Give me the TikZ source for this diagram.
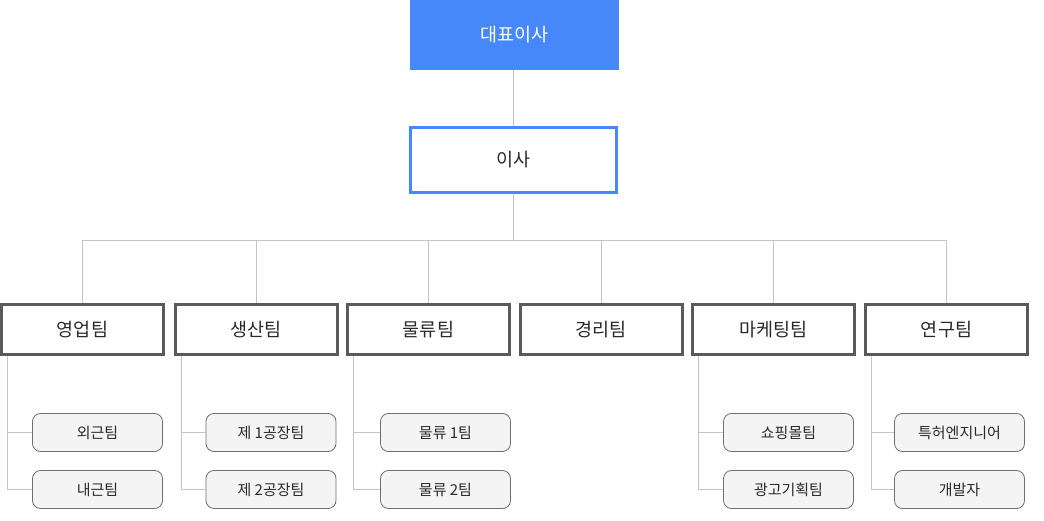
\documentclass[tikz,border=0pt]{standalone}
\usepackage{fontspec}
\setmainfont{Noto Sans CJK KR}
\definecolor{topblue}{HTML}{4688FA}
\definecolor{teamgray}{HTML}{5A5A5A}
\definecolor{subgray}{HTML}{6E6E6E}
\definecolor{subfill}{HTML}{F4F4F4}
\definecolor{linegray}{HTML}{C4C4C4}
\definecolor{txt}{HTML}{2A2A2A}
\begin{document}
\begin{tikzpicture}[x=1pt,y=-1pt,
  topbox/.style={fill=topblue,draw=none,minimum width=209pt,minimum height=70pt,inner sep=0pt,text=white,font=\fontsize{18.5}{22}\selectfont},
  isabox/.style={draw=topblue,line width=3pt,fill=white,minimum width=206pt,minimum height=65pt,inner sep=0pt,text=txt,font=\fontsize{18.5}{22}\selectfont},
  teambox/.style={draw=teamgray,line width=3pt,fill=white,minimum width=162pt,minimum height=50pt,inner sep=0pt,text=txt,font=\fontsize{18.5}{22}\selectfont},
  subbox/.style={draw=subgray,line width=0.8pt,fill=subfill,rounded corners=8pt,minimum width=130pt,minimum height=38pt,inner sep=0pt,text=txt,font=\fontsize{15}{18}\selectfont},
  conn/.style={draw=linegray,line width=1pt}]
\useasboundingbox (0,0) rectangle (1044,521);
% top
\node[topbox] (ceo) at (514.5,35) {대표이사};
\node[isabox] (isa) at (513.5,160) {이사};
% teams
\node[teambox] (t1) at (82.5,329.5) {영업팀};
\node[teambox] (t2) at (256,329.5) {생산팀};
\node[teambox] (t3) at (428.5,329.5) {물류팀};
\node[teambox] (t4) at (601,329.5) {경리팀};
\node[teambox] (t5) at (773.5,329.5) {마케팅팀};
\node[teambox] (t6) at (946.5,329.5) {연구팀};
% sub teams
\node[subbox] (s1a) at (97.5,432.5) {외근팀};
\node[subbox] (s1b) at (97.5,489.5) {내근팀};
\node[subbox] (s2a) at (271,432.5) {제 1공장팀};
\node[subbox] (s2b) at (271,489.5) {제 2공장팀};
\node[subbox] (s3a) at (445.5,432.5) {물류 1팀};
\node[subbox] (s3b) at (445.5,489.5) {물류 2팀};
\node[subbox] (s5a) at (788.5,432.5) {쇼핑몰팀};
\node[subbox] (s5b) at (788.5,489.5) {광고기획팀};
\node[subbox] (s6a) at (959.5,432.5) {특허엔지니어};
\node[subbox] (s6b) at (959.5,489.5) {개발자};
% connectors
\draw[conn] (ceo.south -| isa.north) -- (isa.north);
\foreach \t in {t1,t2,t3,t4,t5,t6}{
  \draw[conn] (isa.south) -- ++(0,46.5) -| (\t.north);
}
\draw[conn] ([xshift=7.5pt]t1.south west) |- (s1a.west);
\draw[conn] ([xshift=7.5pt]t1.south west) |- (s1b.west);
\draw[conn] ([xshift=7.5pt]t2.south west) |- (s2a.west);
\draw[conn] ([xshift=7.5pt]t2.south west) |- (s2b.west);
\draw[conn] ([xshift=7.5pt]t3.south west) |- (s3a.west);
\draw[conn] ([xshift=7.5pt]t3.south west) |- (s3b.west);
\draw[conn] ([xshift=7.5pt]t5.south west) |- (s5a.west);
\draw[conn] ([xshift=7.5pt]t5.south west) |- (s5b.west);
\draw[conn] ([xshift=7.5pt]t6.south west) |- (s6a.west);
\draw[conn] ([xshift=7.5pt]t6.south west) |- (s6b.west);
\end{tikzpicture}
\end{document}
